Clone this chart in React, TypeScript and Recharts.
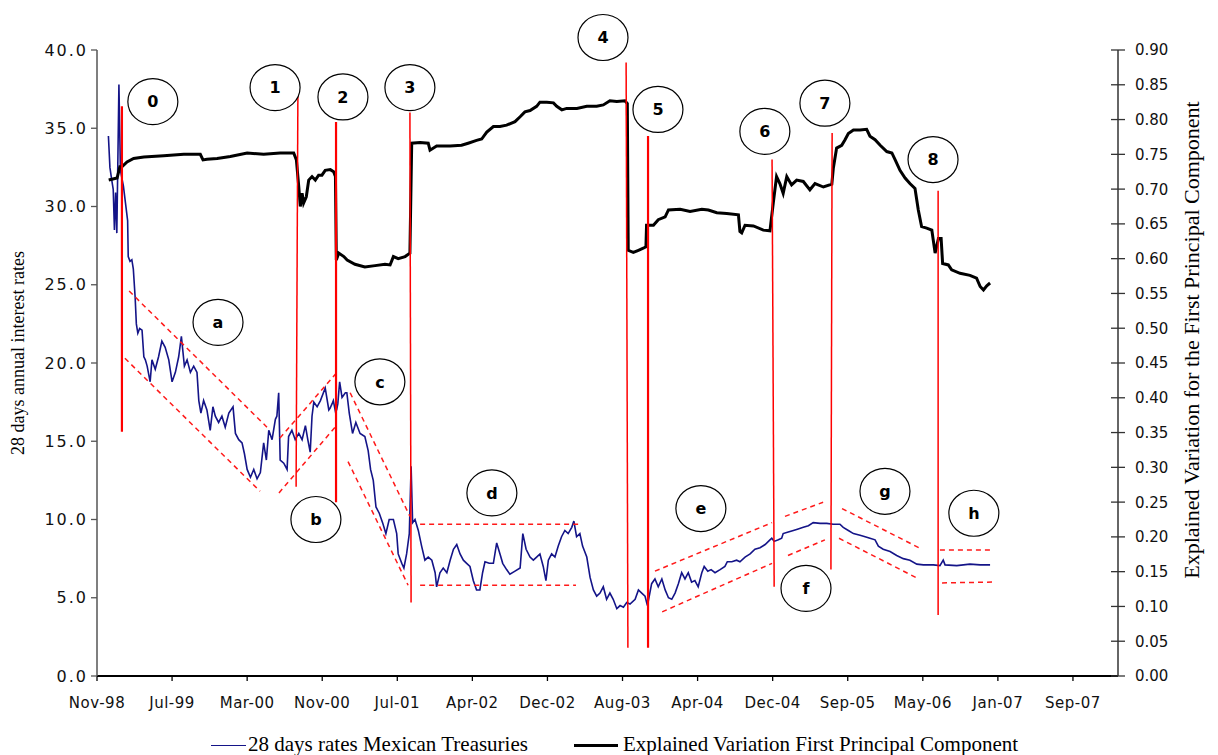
import React from 'react';
import { LineChart, Line, XAxis, YAxis, ReferenceLine, ReferenceDot, Legend, Label } from 'recharts';

// x = days since the start of the sample (Nov-98); ticks every 250 days
const xTicks = [0, 250, 500, 750, 1000, 1250, 1500, 1750, 2000, 2250, 2500, 2750, 3000, 3250];
const xTickLabels = ['Nov-98', 'Jul-99', 'Mar-00', 'Nov-00', 'Jul-01', 'Apr-02', 'Dec-02', 'Aug-03', 'Apr-04', 'Dec-04', 'Sep-05', 'May-06', 'Jan-07', 'Sep-07'];
const leftTicks = [0, 5, 10, 15, 20, 25, 30, 35, 40];
const rightTicks = [0, 0.05, 0.1, 0.15, 0.2, 0.25, 0.3, 0.35, 0.4, 0.45, 0.5, 0.55, 0.6, 0.65, 0.7, 0.75, 0.8, 0.85, 0.9];

// 28 days rates Mexican Treasuries (left axis)
const rateDays = [38, 43, 49, 54, 58, 62, 66, 69, 73, 78, 88, 95, 102, 104, 110, 116, 121, 127, 131, 136, 142, 150, 156, 161, 167, 177, 183, 194, 205, 216, 227, 239, 250, 261, 272, 281, 291, 300, 311, 322, 333, 339, 346, 355, 366, 377, 386, 394, 405, 416, 427, 439, 453, 461, 472, 483, 491, 500, 511, 522, 533, 544, 555, 564, 572, 583, 594, 599, 605, 610, 622, 633, 638, 649, 660, 672, 683, 694, 702, 710, 716, 722, 733, 744, 760, 772, 776, 783, 787, 794, 798, 802, 808, 816, 827, 832, 840, 851, 862, 876, 892, 903, 911, 920, 929, 940, 951, 962, 973, 987, 998, 1003, 1015, 1022, 1031, 1040, 1046, 1051, 1059, 1070, 1081, 1092, 1103, 1115, 1126, 1131, 1142, 1153, 1165, 1176, 1187, 1198, 1209, 1220, 1231, 1242, 1253, 1264, 1275, 1284, 1292, 1306, 1320, 1331, 1342, 1351, 1364, 1375, 1392, 1409, 1418, 1429, 1442, 1453, 1464, 1475, 1486, 1495, 1503, 1514, 1525, 1536, 1547, 1558, 1569, 1581, 1588, 1597, 1608, 1617, 1631, 1642, 1653, 1664, 1675, 1686, 1697, 1708, 1719, 1731, 1742, 1753, 1764, 1775, 1792, 1803, 1814, 1825, 1833, 1847, 1858, 1869, 1881, 1892, 1903, 1914, 1925, 1936, 1947, 1958, 1969, 1980, 1991, 2002, 2014, 2022, 2034, 2045, 2058, 2075, 2091, 2099, 2114, 2130, 2141, 2158, 2175, 2191, 2208, 2225, 2241, 2247, 2255, 2269, 2280, 2285, 2302, 2319, 2335, 2352, 2369, 2385, 2408, 2430, 2452, 2474, 2485, 2502, 2519, 2541, 2558, 2574, 2591, 2602, 2618, 2641, 2663, 2685, 2707, 2730, 2752, 2785, 2807, 2818, 2824, 2863, 2907, 2941, 2974];
const rateValues = [34.5, 32.5, 31.7, 31.1, 28.5, 30.9, 28.3, 32.3, 37.8, 32.3, 31.3, 30.2, 29.1, 26.8, 26.5, 26.6, 26.0, 24.2, 22.5, 21.9, 22.2, 22.1, 20.4, 20.2, 19.8, 18.8, 20.2, 19.6, 20.4, 21.4, 21.0, 20.2, 18.8, 19.4, 20.4, 21.7, 19.8, 20.2, 19.4, 19.8, 19.4, 17.6, 16.8, 17.6, 17.0, 15.7, 17.2, 16.6, 16.2, 16.6, 15.9, 16.8, 17.2, 15.5, 15.1, 14.9, 14.2, 13.2, 12.7, 13.2, 12.6, 13.0, 14.9, 13.8, 15.7, 15.1, 16.4, 16.6, 18.1, 13.8, 13.6, 13.2, 15.3, 15.7, 15.1, 15.5, 15.1, 16.0, 15.1, 14.3, 16.6, 17.5, 17.2, 17.6, 18.4, 17.0, 17.1, 17.4, 17.6, 16.9, 17.0, 17.4, 18.8, 17.8, 18.1, 18.1, 16.8, 15.5, 16.2, 15.5, 15.3, 14.4, 13.2, 12.5, 10.8, 10.4, 9.8, 9.1, 10.0, 10.0, 9.1, 7.8, 7.2, 6.9, 7.8, 9.1, 13.4, 9.8, 10.0, 9.3, 8.3, 7.4, 7.6, 7.4, 6.6, 5.7, 6.6, 6.9, 6.6, 7.4, 8.1, 8.4, 7.8, 7.4, 7.2, 7.0, 6.1, 5.5, 5.5, 6.6, 7.3, 7.2, 7.2, 8.5, 7.8, 7.2, 6.8, 6.5, 6.7, 6.9, 9.1, 8.1, 7.6, 7.4, 7.6, 7.8, 7.0, 6.1, 7.4, 7.8, 7.6, 8.3, 8.9, 9.3, 9.1, 9.5, 9.9, 8.9, 9.1, 8.3, 7.6, 6.3, 5.5, 5.1, 5.3, 5.7, 4.9, 5.3, 4.9, 4.3, 4.5, 4.4, 4.7, 4.6, 4.9, 5.5, 5.3, 5.1, 4.5, 5.9, 6.2, 5.7, 6.2, 5.5, 5.0, 4.9, 5.3, 5.9, 6.6, 6.2, 6.6, 6.0, 6.1, 5.7, 6.6, 7.0, 6.7, 6.8, 6.6, 6.8, 7.0, 7.3, 7.3, 7.4, 7.3, 7.6, 7.8, 8.1, 8.2, 8.4, 8.7, 8.8, 8.6, 8.7, 8.8, 9.1, 9.2, 9.3, 9.4, 9.5, 9.6, 9.8, 9.75, 9.75, 9.7, 9.7, 9.5, 9.3, 9.1, 9.0, 8.9, 8.8, 8.7, 8.3, 8.1, 7.95, 7.7, 7.5, 7.4, 7.15, 7.1, 7.1, 7.05, 7.4, 7.1, 7.05, 7.15, 7.1, 7.1];

// Explained Variation First Principal Component (right axis)
const pcDays = [39, 67, 76, 83, 100, 122, 156, 222, 289, 344, 353, 366, 400, 444, 500, 555, 610, 655, 664, 672, 677, 683, 688, 697, 705, 716, 727, 738, 749, 760, 777, 788, 794, 797, 805, 822, 833, 859, 892, 926, 959, 976, 987, 1003, 1026, 1042, 1048, 1076, 1103, 1109, 1131, 1176, 1214, 1236, 1264, 1281, 1298, 1320, 1342, 1364, 1392, 1409, 1425, 1442, 1464, 1475, 1498, 1520, 1531, 1548, 1564, 1598, 1631, 1664, 1686, 1708, 1731, 1758, 1766, 1769, 1786, 1803, 1819, 1828, 1830, 1853, 1869, 1892, 1903, 1942, 1975, 2014, 2036, 2064, 2097, 2136, 2141, 2147, 2158, 2186, 2219, 2241, 2252, 2263, 2274, 2285, 2297, 2313, 2330, 2352, 2374, 2391, 2419, 2447, 2452, 2463, 2480, 2491, 2502, 2519, 2541, 2563, 2574, 2591, 2608, 2630, 2647, 2658, 2674, 2691, 2707, 2724, 2735, 2746, 2763, 2780, 2791, 2802, 2811, 2816, 2835, 2846, 2874, 2907, 2929, 2941, 2952, 2963, 2974];
const pcValues = [0.713, 0.716, 0.732, 0.732, 0.739, 0.744, 0.746, 0.748, 0.75, 0.75, 0.742, 0.743, 0.744, 0.747, 0.752, 0.75, 0.752, 0.752, 0.742, 0.703, 0.675, 0.694, 0.68, 0.689, 0.713, 0.718, 0.713, 0.72, 0.72, 0.727, 0.728, 0.725, 0.718, 0.598, 0.608, 0.603, 0.598, 0.592, 0.588, 0.59, 0.592, 0.591, 0.603, 0.6, 0.603, 0.608, 0.766, 0.767, 0.766, 0.756, 0.762, 0.762, 0.763, 0.766, 0.77, 0.772, 0.782, 0.79, 0.79, 0.792, 0.797, 0.804, 0.811, 0.813, 0.819, 0.825, 0.825, 0.824, 0.819, 0.814, 0.816, 0.816, 0.819, 0.819, 0.821, 0.827, 0.826, 0.827, 0.823, 0.612, 0.609, 0.612, 0.615, 0.617, 0.648, 0.648, 0.656, 0.66, 0.67, 0.671, 0.668, 0.671, 0.67, 0.666, 0.665, 0.663, 0.639, 0.637, 0.648, 0.647, 0.641, 0.64, 0.68, 0.718, 0.708, 0.694, 0.718, 0.706, 0.713, 0.711, 0.699, 0.708, 0.703, 0.707, 0.73, 0.759, 0.763, 0.771, 0.78, 0.785, 0.785, 0.786, 0.776, 0.771, 0.763, 0.754, 0.752, 0.742, 0.727, 0.716, 0.708, 0.701, 0.67, 0.646, 0.644, 0.641, 0.608, 0.629, 0.629, 0.593, 0.591, 0.584, 0.579, 0.576, 0.572, 0.56, 0.555, 0.561, 0.565];

// numbered events: bubble label position and vertical marker (start/end), in (day, rate)
const eventLabels = ['0', '1', '2', '3', '4', '5', '6', '7', '8'];
const eventBubbleDay = [186, 593, 819, 1042, 1685, 1868, 2224, 2424, 2784];
const eventBubbleRate = [36.7, 37.6, 37.0, 37.6, 40.8, 36.2, 34.8, 36.6, 33.0];
const eventLineDayTop = [83, 669, 796, 1042, 1762, 1835, 2248, 2448, 2801];
const eventLineRateTop = [36.4, 37.3, 35.4, 36.0, 39.2, 34.5, 33.0, 34.7, 31.0];
const eventLineDayBottom = [83, 663, 796, 1046, 1768, 1835, 2255, 2444, 2801];
const eventLineRateBottom = [15.6, 12.1, 11.1, 4.7, 1.8, 1.8, 5.7, 6.8, 3.9];
const eventLineBold = [true, false, true, false, false, true, false, false, false];

// trend phases: bubble label position and dashed channel bounds, in (day, rate)
const phaseLabels = ['a', 'b', 'c', 'd', 'e', 'f', 'g', 'h'];
const phaseBubbleDay = [403, 729, 942, 1315, 2011, 2361, 2624, 2920];
const phaseBubbleRate = [22.6, 10.0, 18.8, 11.7, 10.7, 5.6, 11.8, 10.4];
const channelStartDay = [107, 93, 609, 606, 843, 836, 1076, 1076, 1858, 1882, 2291, 2301, 2481, 2471, 2807, 2814];
const channelStartRate = [24.6, 20.3, 15.2, 11.7, 18.1, 13.7, 9.7, 5.8, 6.7, 4.1, 10.2, 7.7, 10.7, 8.8, 8.05, 5.95];
const channelEndDay = [566, 543, 799, 793, 1042, 1036, 1615, 1595, 2248, 2248, 2418, 2424, 2747, 2737, 2984, 2984];
const channelEndRate = [15.9, 11.8, 19.4, 15.9, 10.2, 5.8, 9.7, 5.8, 9.8, 7.2, 11.1, 8.7, 8.1, 6.2, 8.05, 6.0];

const rateData = rateDays.map((d, i) => ({ day: d, rate: rateValues[i] }));
const pcData = pcDays.map((d, i) => ({ day: d, pc: pcValues[i] }));

const TICK_FONT = '"DejaVu Sans", Verdana, sans-serif';
const SERIF = '"Liberation Serif", "Times New Roman", serif';

const bubble = (text: string) => (props: any) => (
  <g>
    <ellipse cx={props.cx} cy={props.cy} rx={25} ry={23} fill="#fff" stroke="#000" strokeWidth={1.2} />
    <text x={props.cx} y={props.cy} dy="0.36em" textAnchor="middle" fontFamily={TICK_FONT} fontWeight="bold" fontSize={16} fill="#000">
      {text}
    </text>
  </g>
);

const RightTick = (props: any) => {
  const { x, y, payload } = props;
  return (
    <g>
      <line x1={x - 7} x2={x + 7} y1={y} y2={y} stroke="#333" strokeWidth={1.3} />
      <text x={x + 17} y={y} dy="0.36em" textAnchor="start" fontFamily={TICK_FONT} fontSize={15} fill="#111">
        {Number(payload.value).toFixed(2)}
      </text>
    </g>
  );
};

const renderLegend = () => (
  <div style={{ position: 'relative', width: 1218, height: 24, fontFamily: SERIF, fontSize: 21, color: '#000' }}>
    <div style={{ position: 'absolute', left: 211, top: 11, width: 35, height: 0, borderTop: '1.5px solid #141488' }} />
    <span style={{ position: 'absolute', left: 248, top: 0, lineHeight: '21px', whiteSpace: 'nowrap' }}>28 days rates Mexican Treasuries</span>
    <div style={{ position: 'absolute', left: 574, top: 10, width: 44, height: 0, borderTop: '3px solid #000' }} />
    <span style={{ position: 'absolute', left: 623, top: 0, lineHeight: '21px', whiteSpace: 'nowrap' }}>Explained Variation First Principal Component</span>
  </div>
);

export default function App() {
  return (
    <div style={{ position: 'absolute', left: 0, top: 0, width: 1218, height: 755, background: '#fff' }}>
      <LineChart width={1218} height={755} margin={{ top: 50, right: 0, bottom: 39, left: 0 }}>
        <XAxis
          type="number"
          dataKey="day"
          domain={[0, 3400]}
          ticks={xTicks}
          allowDataOverflow
          tickFormatter={(v: number) => xTickLabels[xTicks.indexOf(v)]}
          height={40}
          axisLine={{ stroke: '#000', strokeWidth: 2 }}
          tickLine={{ stroke: '#000', strokeWidth: 1.3 }}
          tickSize={5}
          tickMargin={16}
          tick={{ fontFamily: TICK_FONT, fontSize: 15, fill: '#111', letterSpacing: 0.5 }}
          interval={0}
        />
        <YAxis
          yAxisId="left"
          domain={[0, 40]}
          ticks={leftTicks}
          width={97}
          interval={0}
          tickFormatter={(v: number) => v.toFixed(1)}
          axisLine={{ stroke: '#555', strokeWidth: 1.5 }}
          tickLine={{ stroke: '#555', strokeWidth: 1.3 }}
          tickSize={6}
          tickMargin={3}
          tick={{ fontFamily: TICK_FONT, fontSize: 16, fill: '#111', letterSpacing: 2 }}
        >
          <Label
            content={() => (
              <text x={24} y={353} transform="rotate(-90, 24, 353)" textAnchor="middle" fontFamily={SERIF} fontSize={18} fill="#000">
                28 days annual interest rates
              </text>
            )}
          />
        </YAxis>
        <YAxis
          yAxisId="right"
          orientation="right"
          domain={[0, 0.9]}
          ticks={rightTicks}
          width={100}
          interval={0}
          axisLine={{ stroke: '#333', strokeWidth: 1.5 }}
          tickLine={false}
          tickSize={0}
          tickMargin={0}
          tick={<RightTick />}
        >
          <Label
            content={() => (
              <text x={1199} y={340} transform="rotate(-90, 1199, 340)" textAnchor="middle" fontFamily={SERIF} fontSize={22} fill="#000">
                Explained Variation for the First Principal Component
              </text>
            )}
          />
        </YAxis>
        <Legend
          layout="horizontal"
          verticalAlign="middle"
          align="center"
          content={renderLegend}
          wrapperStyle={{ top: 734, left: 0, width: 1218, height: 24 }}
        />
        <Line
          yAxisId="left"
          data={rateData}
          dataKey="rate"
          type="linear"
          stroke="#141488"
          strokeWidth={1.6}
          dot={false}
          isAnimationActive={false}
          name="28 days rates Mexican Treasuries"
        />
        <Line
          yAxisId="right"
          data={pcData}
          dataKey="pc"
          type="linear"
          stroke="#000"
          strokeWidth={3}
          dot={false}
          isAnimationActive={false}
          name="Explained Variation First Principal Component"
        />
        {channelStartDay.map((d, i) => (
          <ReferenceLine
            key={'ch' + i}
            yAxisId="left"
            segment={[{ x: d, y: channelStartRate[i] }, { x: channelEndDay[i], y: channelEndRate[i] }]}
            stroke="#ff1a1a"
            strokeWidth={1.5}
            strokeDasharray="5 4"
            ifOverflow="visible"
          />
        ))}
        {eventLabels.map((l, i) => (
          <ReferenceLine
            key={'ev' + l}
            yAxisId="left"
            segment={[{ x: eventLineDayTop[i], y: eventLineRateTop[i] }, { x: eventLineDayBottom[i], y: eventLineRateBottom[i] }]}
            stroke="#ff0000"
            strokeWidth={eventLineBold[i] ? 2.2 : 1.5}
            ifOverflow="visible"
          />
        ))}
        {eventLabels.map((l, i) => (
          <ReferenceDot key={'eb' + l} yAxisId="left" x={eventBubbleDay[i]} y={eventBubbleRate[i]} r={24} ifOverflow="visible" shape={bubble(l)} />
        ))}
        {phaseLabels.map((l, i) => (
          <ReferenceDot key={'pb' + l} yAxisId="left" x={phaseBubbleDay[i]} y={phaseBubbleRate[i]} r={24} ifOverflow="visible" shape={bubble(l)} />
        ))}
      </LineChart>
    </div>
  );
}
